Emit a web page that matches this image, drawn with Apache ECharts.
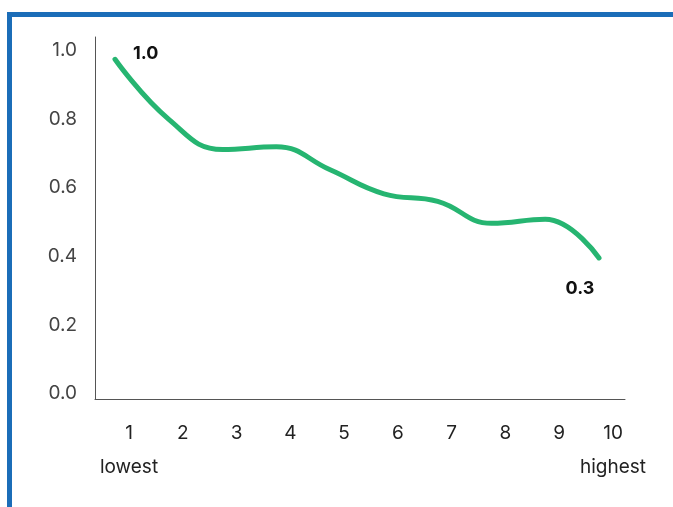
<!DOCTYPE html>
<html>
<head>
<meta charset="utf-8">
<script src="https://cdn.jsdelivr.net/npm/echarts@6/dist/echarts.min.js"></script>
<style>
  html, body { margin: 0; padding: 0; background: #fff; }
  #wrap { position: relative; width: 673px; height: 507px; overflow: hidden; }
  #chart { position: absolute; left: 0; top: 0; width: 673px; height: 507px; }
  #frame {
    position: absolute; left: 7px; top: 12px; right: -10px; bottom: -10px;
    border-top: 5px solid #1b6db8; border-left: 5px solid #1b6db8;
    pointer-events: none;
  }
</style>
</head>
<body>
<div id="wrap">
  <div id="chart"></div>
  <div id="frame"></div>
</div>
<script>
// Decile positions along the horizontal axis
const deciles = [1, 2, 3, 4, 5, 6, 7, 8, 9, 10];
// Relative values for each decile
const values = [0.99, 0.815, 0.727, 0.735, 0.668, 0.598, 0.576, 0.512, 0.524, 0.411];
// Annotated end points (text shown beside the first and last point)
const endLabels = { 0: '1.0', 9: '0.3' };
// Axis tick labels
const yTicks = [0, 0.2, 0.4, 0.6, 0.8, 1.0];
const xNotes = { 1: 'lowest', 10: 'highest' };

const FONT = 'Inter, Lato, sans-serif';
const LINE_GREEN = '#26b571';

const chart = echarts.init(document.getElementById('chart'), null, { renderer: 'canvas' });

const seriesData = deciles.map((d, i) => {
  const item = { value: [d, values[i]] };
  if (endLabels[i] !== undefined) {
    item.label = {
      show: true,
      formatter: endLabels[i],
      position: i === 0 ? 'right' : 'bottom',
      offset: i === 0 ? [13, -6] : [-19, 17],
      fontFamily: FONT,
      fontWeight: 'bold',
      fontSize: 18,
      color: '#111'
    };
  }
  return item;
});

chart.setOption({
  animation: false,
  grid: { left: 95, right: 48, top: 37, bottom: 108 },
  xAxis: {
    type: 'value',
    min: 0.628,
    max: 10.483,
    splitLine: { show: false },
    axisTick: { show: false },
    axisLine: { show: true, lineStyle: { color: '#555', width: 1 } },
    axisLabel: {
      customValues: deciles,
      margin: 17,
      padding: [0, 0, 0, 28],
      fontFamily: FONT,
      fontSize: 19,
      color: '#222',
      formatter: function (v) {
        const note = xNotes[v];
        return note ? '{n|' + v + '}\n{s|' + note + '}' : '{n|' + v + '}';
      },
      rich: {
        n: { fontFamily: FONT, fontSize: 19, color: '#222', lineHeight: 34 },
        s: { fontFamily: FONT, fontSize: 19, color: '#222', lineHeight: 34 }
      }
    }
  },
  yAxis: {
    type: 'value',
    min: 0,
    max: 1.055,
    splitLine: { show: false },
    axisTick: { show: false },
    axisLine: { show: true, lineStyle: { color: '#555', width: 1 } },
    axisLabel: {
      customValues: yTicks,
      margin: 18,
      verticalAlign: 'bottom',
      lineHeight: 11,
      fontFamily: FONT,
      fontSize: 19,
      color: '#444',
      formatter: v => v.toFixed(1)
    }
  },
  series: [{
    type: 'line',
    data: seriesData,
    smooth: 0.45,
    showSymbol: true,
    symbol: 'circle',
    symbolSize: 0.1,
    itemStyle: { color: LINE_GREEN },
    lineStyle: { color: LINE_GREEN, width: 5, cap: 'round', join: 'round' },
    label: { show: false }
  }]
});
</script>
</body>
</html>
